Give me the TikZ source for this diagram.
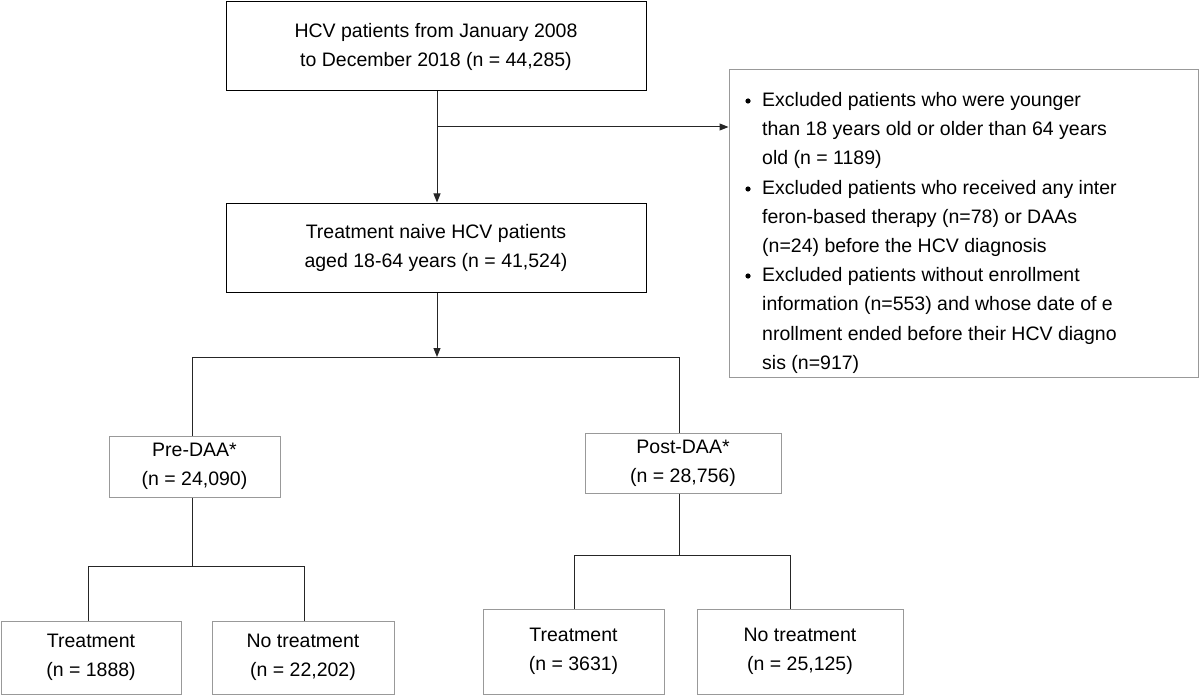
\documentclass[tikz,border=0pt]{standalone}
\usepackage{fontspec}
\setmainfont{Liberation Sans}
\usetikzlibrary{arrows.meta}
\begin{document}
\begin{tikzpicture}[x=1pt,y=-1pt,
  mainbox/.style={draw=black,line width=1pt,inner sep=0pt,align=center,font=\fontsize{19.5}{29}\selectfont},
  graybox/.style={draw=gray!80,line width=1pt,inner sep=0pt,align=center,font=\fontsize{19.5}{29}\selectfont},
  conn/.style={draw=black!85,line width=1pt},
  arr/.style={conn,-{Triangle[length=9pt,width=7pt]}},
  exl/.style={anchor=west,inner sep=0pt,font=\fontsize{19.5}{24}\selectfont}]
\useasboundingbox (0,0) rectangle (1200,698);
\node[mainbox,minimum width=420pt,minimum height=89pt] (top) at (436,46.5) {HCV patients from January 2008\\to December 2018 (n = 44,285)};
\node[mainbox,minimum width=420pt,minimum height=89pt] (naive) at (436,247.5) {Treatment naive HCV patients\\aged 18-64 years (n = 41,524)};
\node[graybox,minimum width=469pt,minimum height=307pt] (excl) at (963.5,223.5) {};
\node[graybox,minimum width=171pt,minimum height=61pt] (pre) at (194.5,466.5) {Pre-DAA*\\(n = 24,090)};
\node[graybox,minimum width=196pt,minimum height=60pt] (post) at (683,463) {Post-DAA*\\(n = 28,756)};
\node[graybox,minimum width=180pt,minimum height=73pt] (t1) at (91,657.5) {Treatment\\(n = 1888)};
\node[graybox,minimum width=182pt,minimum height=73pt] (n1) at (303,657.5) {No treatment\\(n = 22,202)};
\node[graybox,minimum width=181pt,minimum height=85pt] (t2) at (573.5,651.5) {Treatment\\(n = 3631)};
\node[graybox,minimum width=206pt,minimum height=85pt] (n2) at (800,651.5) {No treatment\\(n = 25,125)};
% exclusion text
\foreach \yy/\tx [count=\i] in {101/Excluded patients who were younger,137/than 18 years old or older than 64 years,172/old (n = 1189),
 213/Excluded patients who received any inter,248/feron-based therapy (n=78) or DAAs,283/(n=24) before the HCV diagnosis,
 322/Excluded patients without enrollment,357/information (n=553) and whose date of e} {}
\node[exl] (e1) at (762,101) {Excluded patients who were younger};
\node[exl] (e2) at (762,130) {than 18 years old or older than 64 years};
\node[exl] (e3) at (762,159) {old (n = 1189)};
\node[exl] (e4) at (762,189) {Excluded patients who received any inter};
\node[exl] (e5) at (762,218) {feron-based therapy (n=78) or DAAs};
\node[exl] (e6) at (762,247) {(n=24) before the HCV diagnosis};
\node[exl] (e7) at (762,276) {Excluded patients without enrollment};
\node[exl] (e8) at (762,305) {information (n=553) and whose date of e};
\node[exl] (e9) at (762,335) {nrollment ended before their HCV diagno};
\node[exl] (e10) at (762,364) {sis (n=917)};
\foreach \n in {e1,e4,e7} \fill (\n.west) ++(-14,0) circle (2.6pt);
% connectors
\coordinate (sp1) at (437,127);
\coordinate (sp2) at (437,357);
\draw[arr] (top.south -| sp1) -- (naive.north -| sp1);
\draw[arr] (sp1) -- (sp1 -| excl.west);
\draw[arr] (naive.south -| sp2) -- (sp2);
\coordinate (pl) at (192,357);
\coordinate (pr) at (679,357);
\draw[conn] (pre.north -| pl) -- (pl) -- (pr) -- (post.north -| pr);
\coordinate (b1) at (192,566);
\draw[conn] (pre.south -| b1) -- (b1);
\draw[conn] (t1.north -| 88,0) -- (88,566) -- (304,566) -- (n1.north -| 304,0);
\coordinate (b2) at (679,555);
\draw[conn] (post.south -| b2) -- (b2);
\draw[conn] (t2.north -| 574,0) -- (574,555) -- (790,555) -- (n2.north -| 790,0);
\end{tikzpicture}
\end{document}
